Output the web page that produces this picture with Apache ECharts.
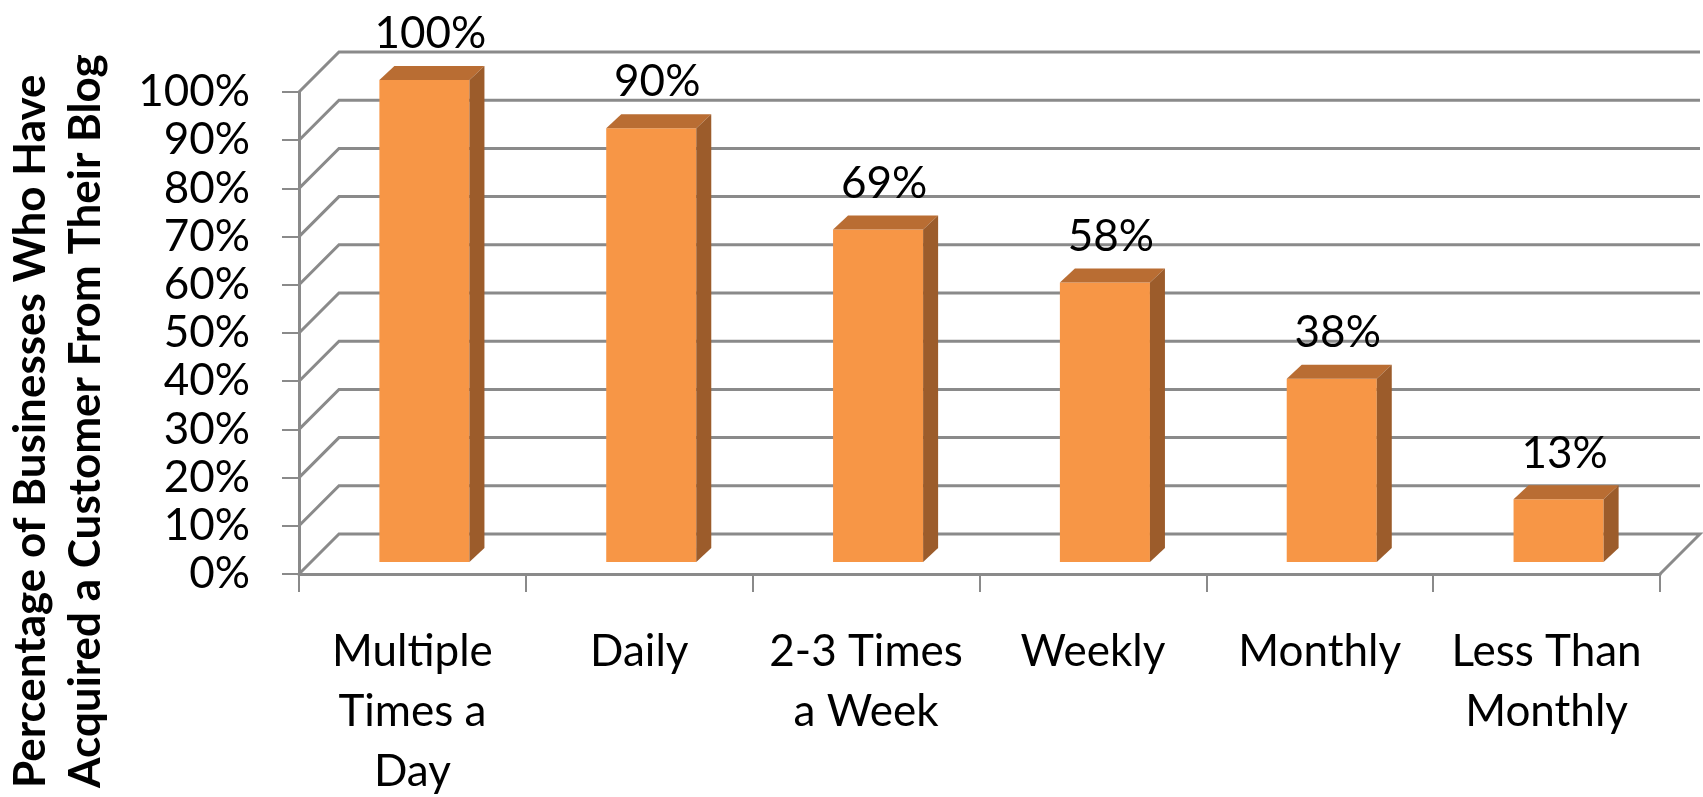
<!DOCTYPE html>
<html>
<head>
<meta charset="utf-8">
<script src="https://cdn.jsdelivr.net/npm/echarts@6/dist/echarts.min.js"></script>
<style>
  html, body { margin: 0; padding: 0; background: #fff; }
  #chart { width: 1703px; height: 797px; }
</style>
</head>
<body>
<div id="chart"></div>
<script>
// data
const categories = ['Multiple\nTimes a\nDay', 'Daily', '2-3 Times\na Week', 'Weekly', 'Monthly', 'Less Than\nMonthly']
const values = [100, 90, 69, 58, 38, 13]
const yTicks = [0, 10, 20, 30, 40, 50, 60, 70, 80, 90, 100]
const yTitle = 'Percentage of Businesses Who Have\nAcquired a Customer From Their Blog'

const FONT = 'Lato, "Noto Sans", sans-serif'
const GRID_COLOR = '#8a8a8a'
// fake 3d depth of the walls and the bars
const WALL_DX = 40, WALL_DY = 40
const BAR_OFF = 12, BAR_DX = 15, BAR_DY = 14

function renderWall(params, api) {
  const cs = params.coordSys
  const v = api.value(1)
  const y = api.coord([0, v])[1]
  const x0 = cs.x, xr = cs.x + cs.width
  const pts = [[x0, y], [x0 + WALL_DX, y - WALL_DY], [xr + WALL_DX, y - WALL_DY]]
  if (v === 0) pts.push([xr, y])
  return {
    type: 'polyline',
    shape: { points: pts },
    style: { stroke: GRID_COLOR, lineWidth: 3, fill: null }
  }
}

function renderBar(params, api) {
  const i = api.value(0), v = api.value(1)
  const top = api.coord([i, v])
  const base = api.coord([i, 0])
  const w = api.size([1, 0])[0] * 0.397
  const xl = top[0] + BAR_OFF - w / 2, xr = xl + w
  const yt = top[1] - BAR_OFF, yb = base[1] - BAR_OFF
  return {
    type: 'group',
    children: [
      {
        type: 'rect',
        shape: { x: xl, y: yt, width: w, height: yb - yt },
        style: { fill: '#F79646' }
      },
      {
        type: 'polygon',
        shape: { points: [[xl, yt], [xl + BAR_DX, yt - BAR_DY], [xr + BAR_DX, yt - BAR_DY], [xr, yt]] },
        style: { fill: '#B96D33' }
      },
      {
        type: 'polygon',
        shape: { points: [[xr, yt], [xr + BAR_DX, yt - BAR_DY], [xr + BAR_DX, yb - BAR_DY], [xr, yb]] },
        style: { fill: '#9C5C2B' }
      },
      {
        type: 'text',
        x: (xl + xr) / 2 + 6,
        y: yt - BAR_DY - 32,
        style: {
          text: v + '%',
          font: '44px ' + FONT,
          fill: '#000',
          align: 'center',
          verticalAlign: 'middle'
        }
      }
    ]
  }
}

const myChart = echarts.init(document.getElementById('chart'))
myChart.setOption({
  animation: false,
  backgroundColor: '#fff',
  grid: { left: 299, right: 43, top: 92, bottom: 223, outerBoundsMode: 'none' },
  graphic: [{
    type: 'text',
    x: 58,
    y: 788,
    rotation: Math.PI / 2,
    style: {
      text: yTitle,
      font: 'bold 44px ' + FONT,
      lineHeight: 55,
      fill: '#000',
      align: 'left',
      verticalAlign: 'middle'
    }
  }],
  xAxis: {
    type: 'category',
    data: categories,
    axisLine: { show: true, lineStyle: { color: GRID_COLOR, width: 3 } },
    axisTick: { show: true, length: 18, lineStyle: { color: GRID_COLOR, width: 2 } },
    axisLabel: {
      interval: 0,
      margin: 48,
      color: '#000',
      fontFamily: 'Lato',
      fontSize: 44,
      lineHeight: 60
    },
    splitLine: { show: false }
  },
  yAxis: {
    type: 'value',
    min: 0,
    max: 100,
    interval: 10,
    axisLine: { show: true, lineStyle: { color: GRID_COLOR, width: 3 } },
    axisTick: { show: true, length: 17, lineStyle: { color: GRID_COLOR, width: 2 } },
    axisLabel: {
      formatter: '{value}%',
      margin: 49,
      color: '#000',
      fontFamily: 'Lato',
      fontSize: 44
    },
    splitLine: { show: false }
  },
  series: [
    {
      name: 'walls',
      type: 'custom',
      renderItem: renderWall,
      data: yTicks.map(t => [0, t]),
      encode: { x: 0, y: 1 },
      z: 1,
      silent: true
    },
    {
      name: 'bars',
      type: 'custom',
      renderItem: renderBar,
      data: values.map((v, i) => [i, v]),
      encode: { x: 0, y: 1 },
      z: 3
    }
  ]
})
</script>
</body>
</html>
